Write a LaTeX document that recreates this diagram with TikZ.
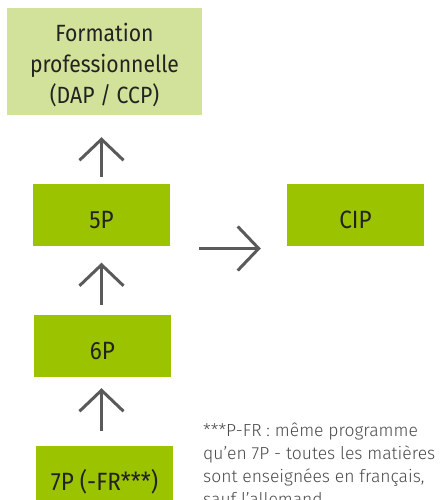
\documentclass[tikz,border=0pt]{standalone}
\usepackage{fontspec}
\setmainfont{Fira Sans Light}
\newfontfamily\boxfont{Fira Sans}[FakeStretch=0.9]
\usetikzlibrary{arrows.meta}
\definecolor{leaf}{HTML}{9CC300}
\definecolor{paleleaf}{HTML}{D2E29A}
\definecolor{arrowgray}{HTML}{5A5A5A}
\definecolor{notegray}{HTML}{4A4A4A}
\definecolor{ink}{HTML}{222222}
\begin{document}
\begin{tikzpicture}[x=1pt,y=-1pt,
  level/.style={fill=leaf, minimum width=137pt, minimum height=62pt, inner sep=0pt,
    text height=27pt, text depth=0pt, text=ink, font=\boxfont\fontsize{25}{28}\selectfont},
  goal/.style={fill=paleleaf, minimum width=195pt, minimum height=107pt, inner sep=0pt},
  stepup/.style={draw=arrowgray, line width=3pt, -{Straight Barb[length=21pt,width=44pt]}}]

% Set the canvas (pixel grid of the reference)
\useasboundingbox (0,0) rectangle (439,500);

% Draw the boxes
\node[goal] (formation) at (104.5,61.5) {};
\node[align=center, inner sep=0pt, text=ink, font=\boxfont\fontsize{23.5}{31}\selectfont]
  (formationtext) at ([yshift=-4pt]formation.center) {Formation\\professionnelle\\(DAP / CCP)};
\node[level] (b5) at (101.5,214.5) {5P};
\node[level] (cip) at (355.5,214.5) {CIP};
\node[level] (b6) at (102.5,346) {6P};
\node[level] (b7) at (104.5,477) {7P (-FR***)};

% Draw the arrows
\draw[stepup, shorten <=6pt, shorten >=22pt] (b5.north) -- (b5.north |- formation.south);
\draw[stepup, shorten <=10pt, shorten >=17pt] (b5.south |- b6.north) -- (b5.south);
\draw[stepup, shorten <=15pt, shorten >=11pt] (b5.south |- b7.north) -- (b5.south |- b6.south);
\draw[stepup, shorten <=29pt, shorten >=26pt] ([yshift=-34pt]b5.east) -- ([yshift=-34pt]cip.west);

% Footnote
\node[anchor=north west, align=left, inner sep=0pt, text=notegray,
  font=\fontsize{17.5}{23}\selectfont] (note) at (203,423)
  {***P-FR : même programme\\qu'en 7P - toutes les matières\\sont enseignées en français,\\sauf l'allemand};
\end{tikzpicture}
\end{document}
